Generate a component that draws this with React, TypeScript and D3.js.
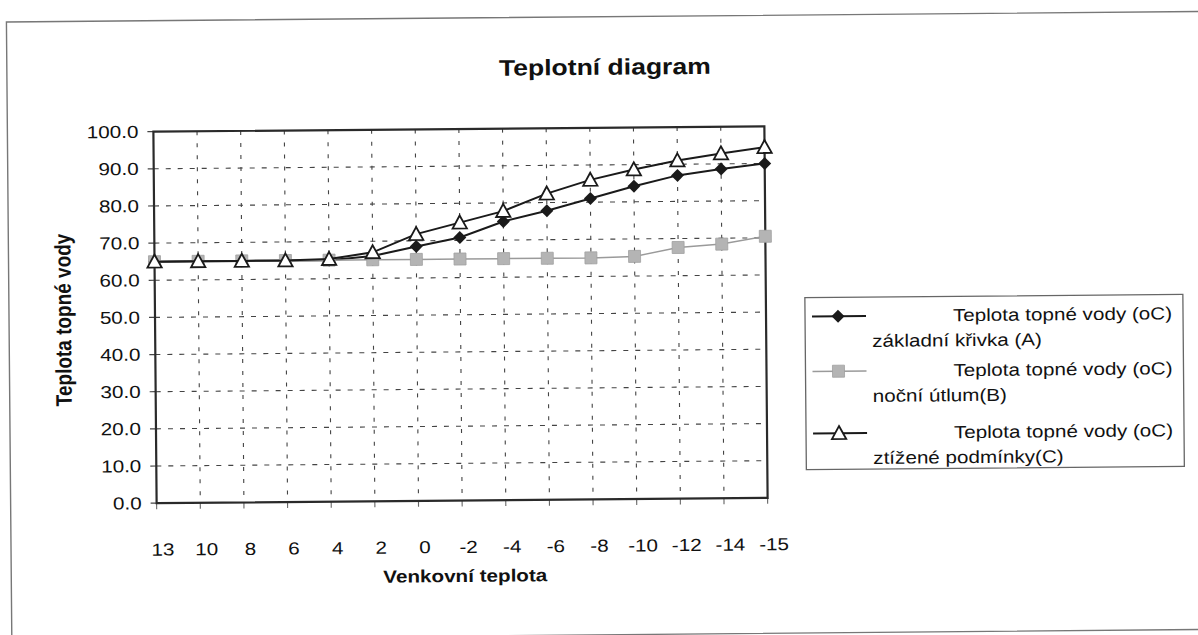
import React from "react";
import * as d3 from "d3";

const categories = ["13", "10", "8", "6", "4", "2", "0", "-2", "-4", "-6", "-8", "-10", "-12", "-14", "-15"];
const seriesA = [65, 65, 65, 65, 65, 66, 68.5, 70.8, 75, 77.8, 81, 84.2, 87, 88.6, 90];
const seriesB = [65, 65, 65, 65, 65, 65, 65, 65, 65, 65, 65, 65.3, 67.6, 68.4, 70.4];
const seriesC = [65, 65, 65, 65, 65.3, 67, 71.8, 74.8, 77.8, 82.4, 86, 88.7, 91, 92.8, 94.4];
const yTicks = [0, 10, 20, 30, 40, 50, 60, 70, 80, 90, 100];
const legendNames = [
  ["Teplota topné vody (oC)", "základní křivka (A)"],
  ["Teplota topné vody (oC)", "noční útlum(B)"],
  ["Teplota topné vody (oC)", "ztížené podmínky(C)"],
];
const title = "Teplotní diagram";
const xTitle = "Venkovní teplota";
const yTitle = "Teplota topné vody";

const FONT = "'Liberation Sans', Arial, sans-serif";
const SX = 1.18;

function T(props: any) {
  const { x, y, size, bold, anchor, children, fill } = props;
  return (
    <text
      transform={`translate(${x},${y}) scale(${SX},1)`}
      fontFamily={FONT}
      fontSize={size}
      fontWeight={bold ? "bold" : "normal"}
      textAnchor={anchor || "start"}
      fill={fill || "#111"}
    >
      {children}
    </text>
  );
}

export default function App() {
  const W = 1198, H = 635;
  const L = 155, R = 766, TOP = 129, BOT = 500.5;
  const x = d3.scalePoint<string>().domain(categories).range([L, R]);
  const y = d3.scaleLinear().domain([0, 100]).range([BOT, TOP]);

  const line = d3
    .line<number>()
    .x((_, i) => x(categories[i]) as number)
    .y((d) => y(d));

  const diamond = (cx: number, cy: number, r: number) =>
    `M${cx},${cy - r}L${cx + r},${cy}L${cx},${cy + r}L${cx - r},${cy}Z`;
  const tri = (cx: number, cy: number, s: number) =>
    `M${cx},${cy - s * 0.55}L${cx + s * 0.55},${cy + s * 0.45}L${cx - s * 0.55},${cy + s * 0.45}Z`;

  const legX = 805, legY = 300.7, legW = 378, legH = 172;
  const rowY = [319.5, 374.5, 436.5];

  return (
    <svg width={W} height={H} style={{ position: "absolute", left: 0, top: 0, background: "#fff" }}>
      <rect x={0} y={0} width={W} height={H} fill="#fff" />
      <g transform="rotate(-0.5, 460, 315)">
        {/* outer frame */}
        <rect x={9} y={18} width={1250} height={618} fill="none" stroke="#777" strokeWidth={1.4} />

        <T x={607} y={76} size={22.5} bold anchor="middle">{title}</T>

        {/* gridlines */}
        {yTicks.filter((t) => t > 0 && t < 100).map((t) => (
          <line key={"h" + t} x1={L} x2={R} y1={y(t)} y2={y(t)} stroke="#444" strokeWidth={1.1} strokeDasharray="5,7" />
        ))}
        {categories.slice(1, -1).map((c) => (
          <line key={"v" + c} x1={x(c)} x2={x(c)} y1={TOP} y2={BOT} stroke="#444" strokeWidth={1.1} strokeDasharray="4,8" />
        ))}

        {/* axes ticks */}
        {yTicks.map((t) => (
          <line key={"yt" + t} x1={L - 6} x2={L} y1={y(t)} y2={y(t)} stroke="#444" strokeWidth={1.2} />
        ))}
        {categories.map((c) => (
          <line key={"xt" + c} x1={x(c)} x2={x(c)} y1={BOT} y2={BOT + 6} stroke="#666" strokeWidth={1.1} />
        ))}

        {/* plot border */}
        <rect x={L} y={TOP} width={R - L} height={BOT - TOP} fill="none" stroke="#2a2a2a" strokeWidth={2.2} />

        {/* y labels */}
        {yTicks.map((t) => (
          <T key={"yl" + t} x={140} y={y(t) + 6} size={17.5} anchor="end">{t.toFixed(1)}</T>
        ))}
        {/* x labels */}
        {categories.map((c) => (
          <T key={"xl" + c} x={(x(c) as number) + 6} y={553} size={17.5} anchor="middle">{c}</T>
        ))}
        <T x={463} y={582} size={17.5} bold anchor="middle">{xTitle}</T>
        <text
          transform={`translate(71,316.5) rotate(-90) scale(1,${SX})`}
          fontFamily={FONT}
          fontSize={19}
          fontWeight="bold"
          textAnchor="middle"
          fill="#111"
        >
          {yTitle}
        </text>

        {/* series A */}
        <path d={line(seriesA) || ""} fill="none" stroke="#1a1a1a" strokeWidth={2} />
        {seriesA.map((v, i) => (
          <path key={"a" + i} d={diamond(x(categories[i]) as number, y(v), 6.5)} fill="#1a1a1a" />
        ))}
        {/* series B */}
        <path d={line(seriesB) || ""} fill="none" stroke="#9a9a9a" strokeWidth={1.5} />
        {seriesB.map((v, i) => (
          <rect key={"b" + i} x={(x(categories[i]) as number) - 6} y={y(v) - 6} width={12} height={12} fill="#b4b4b4" stroke="#a0a0a0" strokeWidth={0.8} />
        ))}
        {/* series C */}
        <path d={line(seriesC) || ""} fill="none" stroke="#1a1a1a" strokeWidth={2} />
        {seriesC.map((v, i) => (
          <path key={"c" + i} d={tri(x(categories[i]) as number, y(v), 13)} fill="#fff" stroke="#1a1a1a" strokeWidth={1.8} />
        ))}

        {/* legend */}
        <rect x={legX} y={legY} width={legW} height={legH} fill="#fff" stroke="#666" strokeWidth={1.3} />
        {legendNames.map((nm, i) => {
          const ry = rowY[i];
          const mx = 838;
          return (
            <g key={"lg" + i}>
              <line x1={812} x2={866} y1={ry} y2={ry} stroke={i === 1 ? "#9a9a9a" : "#1a1a1a"} strokeWidth={i === 1 ? 1.5 : 2} />
              {i === 0 && <path d={diamond(mx, ry, 6.5)} fill="#1a1a1a" />}
              {i === 1 && <rect x={mx - 6} y={ry - 6} width={12} height={12} fill="#b4b4b4" stroke="#a0a0a0" strokeWidth={0.8} />}
              {i === 2 && <path d={tri(mx, ry, 13)} fill="#fff" stroke="#1a1a1a" strokeWidth={1.8} />}
              <T x={1172} y={ry + 6} size={17.5} anchor="end">{nm[0]}</T>
              <T x={872} y={ry + 31} size={17.5}>{nm[1]}</T>
            </g>
          );
        })}
      </g>
    </svg>
  );
}
